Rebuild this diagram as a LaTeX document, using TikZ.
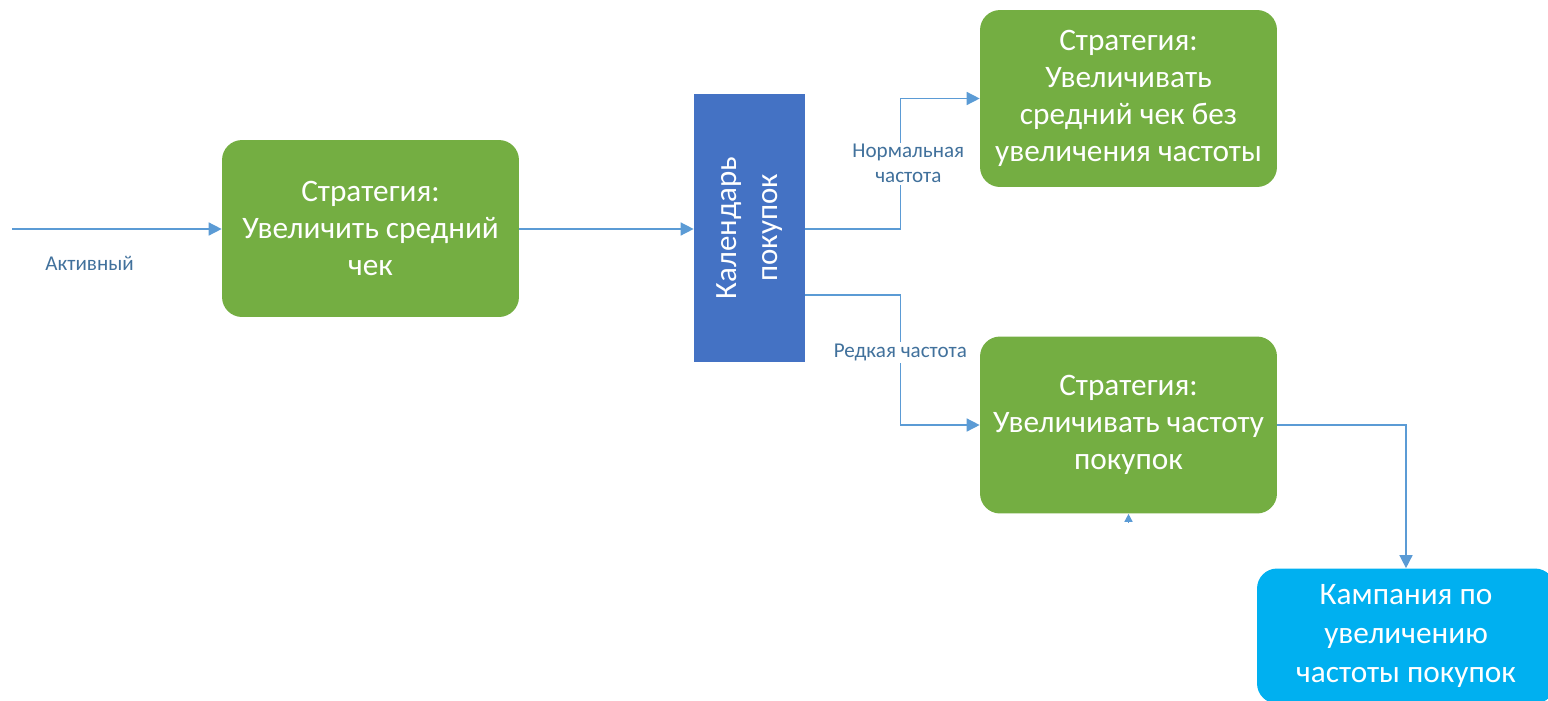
\documentclass[tikz,border=0pt]{standalone}
\usepackage{fontspec}
\setmainfont{Carlito}
\usetikzlibrary{arrows.meta}
\usetikzlibrary{calc}
\definecolor{stratgreen}{HTML}{74AE42}
\definecolor{calblue}{HTML}{4472C4}
\definecolor{campcyan}{HTML}{00B0F0}
\definecolor{flowline}{HTML}{5B9BD5}
\definecolor{flowtext}{HTML}{41719C}
\tikzset{
  strategy/.style={rectangle, rounded corners=0.4cm, fill=stratgreen, text=white,
    align=center, minimum width=5.94cm, minimum height=3.54cm,
    font=\fontsize{17.8}{21}\selectfont},
  flow/.style={draw=flowline, line width=0.85pt, -{Triangle[length=0.26cm,width=0.26cm]}},
  flowlabel/.style={text=flowtext, fill=white, align=center, inner sep=1pt,
    font=\fontsize{12}{14.2}\selectfont}
}
\begin{document}
\begin{tikzpicture}[x=0.02cm,y=-0.02cm]
          \useasboundingbox (0,0) rectangle (1548,700);
          \clip (0,0) rectangle (1548,700);
          % strategy boxes
          \node[strategy] (avg) at (370.5,228.5) {Стратегия:\\Увеличить средний\\чек};
          \node[strategy] (avgnofreq) at (1128.5,98.5) {Стратегия:\\Увеличивать\\средний чек без\\увеличения частоты};
          \node[strategy] (freq) at (1128.5,425) {Стратегия:\\Увеличивать частоту\\покупок};
          % purchase calendar
          \node[rectangle, fill=calblue, text=white, align=center, rotate=90,
            minimum width=5.36cm, minimum height=2.22cm,
            font=\fontsize{17.6}{23}\selectfont] (calendar) at (749.5,228) {Календарь\\покупок};
          % campaign
          \node[rectangle, rounded corners=0.4cm, fill=campcyan, text=white, align=center,
            minimum width=5.96cm, minimum height=2.7cm,
            font=\fontsize{17.8}{22}\selectfont] (campaign) at (1406,636) {Кампания по\\увеличению\\частоты покупок};
          % incoming line
          \coordinate (input) at (12,229);
          \draw[flow] (input) -- (avg.west |- input) node[flowlabel,pos=0.37,yshift=-0.68cm,fill=none] {Активный};
          % line between strategy and calendar
          \draw[flow] (avg.east |- input) -- (calendar.north |- input);
          % normal frequency
          \draw[flow] (calendar.south |- input) -- ++(95,0) |- (avgnofreq.west) node[flowlabel,pos=0.25,xshift=0.16cm] {Нормальная\\частота};
          % rare frequency
          \draw[flow] ($(calendar.south west)!0.25!(calendar.south east)$) -- ++(95,0) |- (freq.west) node[flowlabel,pos=0.22] {Редкая частота};
          % line between frequency strategy and campaign
          \draw[flow] (freq.east) -| (campaign.north);
          % stray tip under frequency strategy
          \draw[draw=flowline, line width=0.85pt, -{Triangle[length=0.16cm,width=0.16cm]}] ($(freq.south)+(0,9)$) -- (freq.south);
        \end{tikzpicture}
\end{document}
